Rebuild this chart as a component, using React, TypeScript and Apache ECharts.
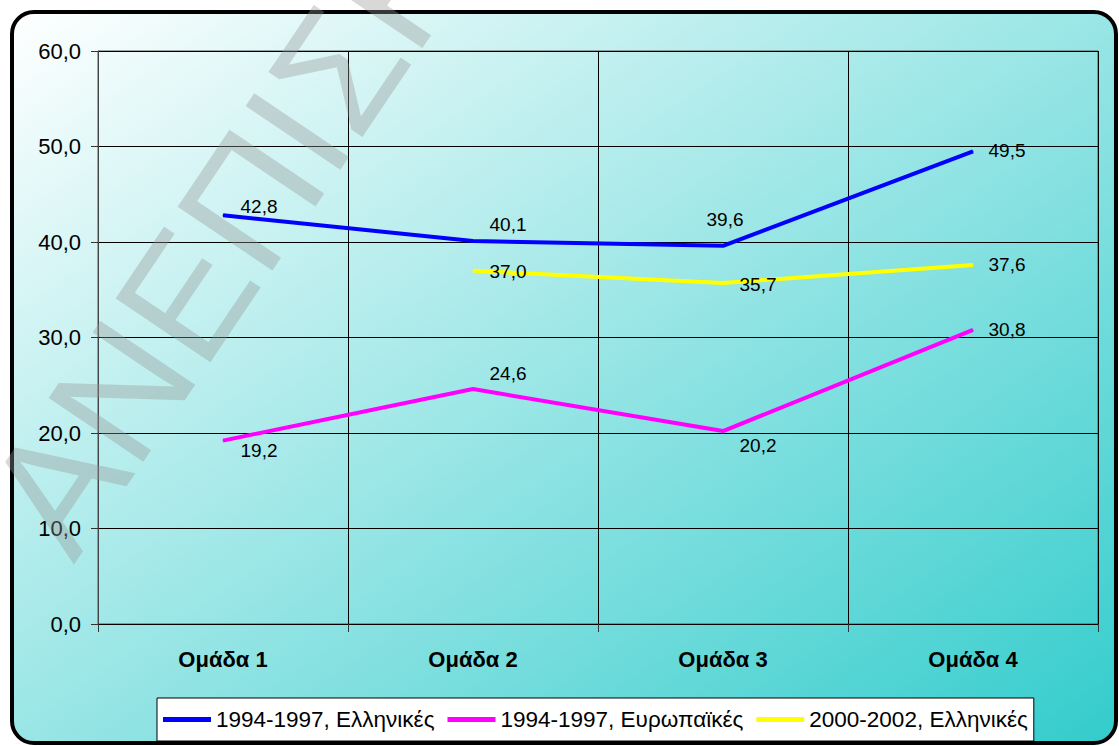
import React, { useEffect, useRef } from "react";
import * as echarts from "echarts";

const categories = ["Ομάδα 1", "Ομάδα 2", "Ομάδα 3", "Ομάδα 4"];
const seriesNames = ["1994-1997, Ελληνικές", "1994-1997, Ευρωπαϊκές", "2000-2002, Ελληνικές"];
const greek9497 = [42.8, 40.1, 39.6, 49.5];
const euro9497 = [19.2, 24.6, 20.2, 30.8];
const greek0002 = [null, 37.0, 35.7, 37.6];
const yTicks = { min: 0, max: 60, interval: 10 };
const watermarkText = "ΑΝΕΠΙΣΗΜΟ";

// label layout (offset of label centre from its point, px)
const offsBlue = [[36, -9], [35, -17], [2, -26], [34, -1]];
const offsPink = [[36, 10], [35, -16], [35, 14], [34, 0]];
const offsYellow = [[0, 0], [35, 1], [35, 1], [34, 0]];

const FONT = "'Liberation Sans', Arial, sans-serif";
const fmt = (v: number) => v.toFixed(1).replace(".", ",");

function mkData(vals: (number | null)[], offs: number[][]) {
  return vals.map((v, i) =>
    v === null ? null : { value: v, label: { offset: offs[i] } }
  );
}

function mkSeries(name: string, vals: (number | null)[], color: string, offs: number[][]) {
  return {
    name,
    type: "line",
    data: mkData(vals, offs),
    connectNulls: false,
    symbol: "circle",
    symbolSize: 1,
    showSymbol: true,
    lineStyle: { color, width: 4 },
    itemStyle: { color },
    label: {
      show: true,
      position: "inside",
      formatter: (p: any) => fmt(p.value),
      fontFamily: FONT,
      fontSize: 19,
      color: "#000",
    },
    emphasis: { disabled: true },
    z: 3,
  };
}

export default function App() {
  const ref = useRef<HTMLDivElement>(null);
  useEffect(() => {
    const chart = echarts.init(ref.current!, undefined, { renderer: "svg" });
    chart.setOption({
      animation: false,
      graphic: [
        {
          type: "rect",
          z: -10,
          silent: true,
          shape: { x: 12, y: 12, width: 1104, height: 731, r: 22 },
          style: {
            fill: new echarts.graphic.LinearGradient(0, 0, 1, 1, [
              { offset: 0, color: "#ffffff" },
              { offset: 1, color: "#33cccc" },
            ]),
            stroke: "#000",
            lineWidth: 4,
          },
        },
        {
          type: "text",
          z: 100,
          silent: true,
          x: 95,
          y: 579,
          rotation: (56 * Math.PI) / 180,
          style: {
            text: watermarkText,
            font: `normal 166px ${FONT}`,
            fill: "rgba(150,150,150,0.37)",
            textAlign: "left",
            textVerticalAlign: "bottom",
          },
        },
      ],
      grid: {
        left: 98,
        right: 21,
        top: 51,
        bottom: 122,
        show: true,
        borderColor: "#555",
        borderWidth: 1,
        backgroundColor: "transparent",
      },
      legend: {
        left: 157,
        top: 698,
        data: seriesNames,
        icon: "rect",
        itemWidth: 48,
        itemHeight: 5,
        itemGap: 13,
        padding: [10, 6],
        backgroundColor: "#fff",
        borderColor: "#000",
        borderWidth: 1,
        borderRadius: 0,
        selectedMode: false,
        textStyle: { fontFamily: FONT, fontSize: 22.5, color: "#000" },
      },
      xAxis: {
        type: "category",
        data: categories,
        boundaryGap: true,
        axisLine: { show: true, lineStyle: { color: "#000", width: 1 } },
        axisTick: { show: true, length: 8, lineStyle: { color: "#333" } },
        splitLine: { show: true, lineStyle: { color: "#000", width: 1 } },
        axisLabel: {
          fontFamily: FONT,
          fontSize: 22,
          fontWeight: "bold",
          color: "#000",
          margin: 24,
        },
      },
      yAxis: {
        type: "value",
        min: yTicks.min,
        max: yTicks.max,
        interval: yTicks.interval,
        axisLine: { show: true, lineStyle: { color: "#444", width: 1 } },
        axisTick: { show: true, length: 7, lineStyle: { color: "#333" } },
        splitLine: { show: true, lineStyle: { color: "#000", width: 1 } },
        axisLabel: {
          fontFamily: FONT,
          fontSize: 22,
          color: "#000",
          margin: 17,
          formatter: (v: number) => fmt(v),
        },
      },
      series: [
        mkSeries(seriesNames[0], greek9497, "#0000ff", offsBlue),
        mkSeries(seriesNames[1], euro9497, "#ff00ff", offsPink),
        mkSeries(seriesNames[2], greek0002, "#ffff00", offsYellow),
      ],
    });
    return () => chart.dispose();
  }, []);
  return (
    <div
      ref={ref}
      style={{ position: "fixed", left: 0, top: 0, width: 1119, height: 746, background: "#fff" }}
    />
  );
}
